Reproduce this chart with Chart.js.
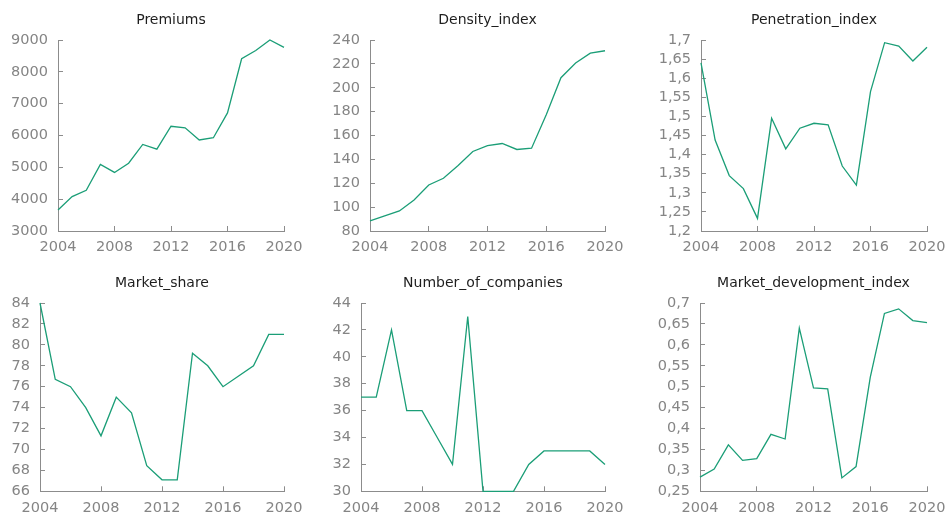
<!DOCTYPE html>
<html>
<head>
<meta charset="utf-8">
<script src="https://cdn.jsdelivr.net/npm/chart.js@4.4.1/dist/chart.umd.min.js"></script>
<style>
  html, body { margin: 0; padding: 0; background: #fff; }
  #wrap { position: relative; width: 949px; height: 515px; overflow: hidden; }
  #wrap canvas { position: absolute; }
</style>
</head>
<body>
<div id="wrap"></div>
<script>
// yearly series, 2004-2020
const years = [2004, 2005, 2006, 2007, 2008, 2009, 2010, 2011, 2012, 2013, 2014, 2015, 2016, 2017, 2018, 2019, 2020];

const premiums = [3660, 4080, 4280, 5090, 4840, 5130, 5720, 5570, 6290, 6240, 5860, 5930, 6710, 8410, 8670, 9000, 8770];
const densityIndex = [88.4, 92.6, 96.8, 106, 118.6, 124.2, 134.8, 146.6, 151.6, 153.3, 148.3, 149.4, 177.3, 208.4, 220.7, 229, 231];
const penetrationIndex = [1.640, 1.438, 1.345, 1.311, 1.233, 1.495, 1.415, 1.469, 1.482, 1.478, 1.370, 1.320, 1.565, 1.693, 1.684, 1.645, 1.681];
const marketShare = [84, 76.7, 76, 74, 71.3, 75, 73.5, 68.45, 67.1, 67.1, 79.2, 78, 76, 77, 78, 81, 81];
const numberOfCompanies = [37, 37, 42, 36, 36, 34, 32, 43, 30, 30, 30, 32, 33, 33, 33, 33, 32];
const marketDevelopmentIndex = [0.284, 0.303, 0.361, 0.324, 0.328, 0.386, 0.375, 0.640, 0.497, 0.495, 0.282, 0.309, 0.522, 0.675, 0.686, 0.658, 0.653];

const titles = ['Premiums', 'Density_index', 'Penetration_index', 'Market_share', 'Number_of_companies', 'Market_development_index'];
const series = [premiums, densityIndex, penetrationIndex, marketShare, numberOfCompanies, marketDevelopmentIndex];

// y axis ranges: [min, max, step]
const yRanges = [
  [3000, 9000, 1000],
  [80, 240, 20],
  [1.2, 1.7, 0.05],
  [66, 84, 2],
  [30, 44, 2],
  [0.25, 0.7, 0.05]
];
const xTicks = [2004, 2020, 4];

// panel boxes: canvas left/top/width/height and plot area left/right/top/bottom (canvas coords)
const panels = [
  { x: 0,   y: 0,   w: 316, h: 257, area: [58, 284, 40, 231] },
  { x: 316, y: 0,   w: 316, h: 257, area: [54, 289, 40, 231] },
  { x: 632, y: 0,   w: 317, h: 257, area: [69, 295, 40, 231] },
  { x: 0,   y: 257, w: 316, h: 258, area: [40, 284, 46, 237] },
  { x: 316, y: 257, w: 316, h: 258, area: [45, 289, 46, 237] },
  { x: 632, y: 257, w: 317, h: 258, area: [68, 295, 46, 237] }
];

const LINE = '#1b9e77';
const AXIS = '#8c8c8c';
const TICK_TXT = '#858585';
const FONT = 'DejaVu Sans, Verdana, sans-serif';

const fmt = v => String(+(+v).toFixed(2)).replace('.', ',');

const wrap = document.getElementById('wrap');

panels.forEach((p, i) => {
  const cv = document.createElement('canvas');
  cv.width = p.w;
  cv.height = p.h;
  cv.style.left = p.x + 'px';
  cv.style.top = p.y + 'px';
  wrap.appendChild(cv);

  const [aL, aR, aT, aB] = p.area;
  const [yMin, yMax, yStep] = yRanges[i];
  const titleBottom = 11.6;
  const titleTop = aT - 16.8 - titleBottom;

  new Chart(cv.getContext('2d'), {
    type: 'line',
    data: {
      datasets: [{
        label: titles[i],
        data: years.map((yr, k) => ({ x: yr, y: series[i][k] })),
        borderColor: LINE,
        borderWidth: 1.3,
        pointRadius: 0,
        tension: 0,
        fill: false,
        clip: false
      }]
    },
    options: {
      responsive: false,
      animation: false,
      layout: { padding: { left: 0, right: p.w - aR, top: 0, bottom: 0 } },
      plugins: {
        legend: { display: false },
        tooltip: { enabled: false },
        title: {
          display: true,
          text: titles[i],
          fullSize: false,
          color: '#1e1e1e',
          font: { family: FONT, size: 14, weight: 'normal' },
          padding: { top: titleTop, bottom: titleBottom }
        }
      },
      scales: {
        x: {
          type: 'linear',
          min: xTicks[0],
          max: xTicks[1],
          afterFit: s => {
            s.height = p.h - aB;
            s.paddingLeft = 0;
            s.paddingRight = 0;
          },
          ticks: {
            stepSize: xTicks[2],
            color: TICK_TXT,
            padding: 13,
            maxRotation: 0,
            autoSkip: false,
            font: { family: FONT, size: 14.5 },
            callback: v => String(v)
          },
          grid: { drawOnChartArea: false, drawTicks: true, tickLength: -5, color: AXIS },
          border: { color: AXIS, width: 1 }
        },
        y: {
          min: yMin,
          max: yMax,
          afterFit: s => { s.width = aL; },
          ticks: {
            stepSize: yStep,
            color: TICK_TXT,
            padding: 15,
            autoSkip: false,
            font: { family: FONT, size: 14.5 },
            callback: v => fmt(v)
          },
          grid: { drawOnChartArea: false, drawTicks: true, tickLength: -5, color: AXIS },
          border: { color: AXIS, width: 1 }
        }
      }
    }
  });
});
</script>
</body>
</html>
